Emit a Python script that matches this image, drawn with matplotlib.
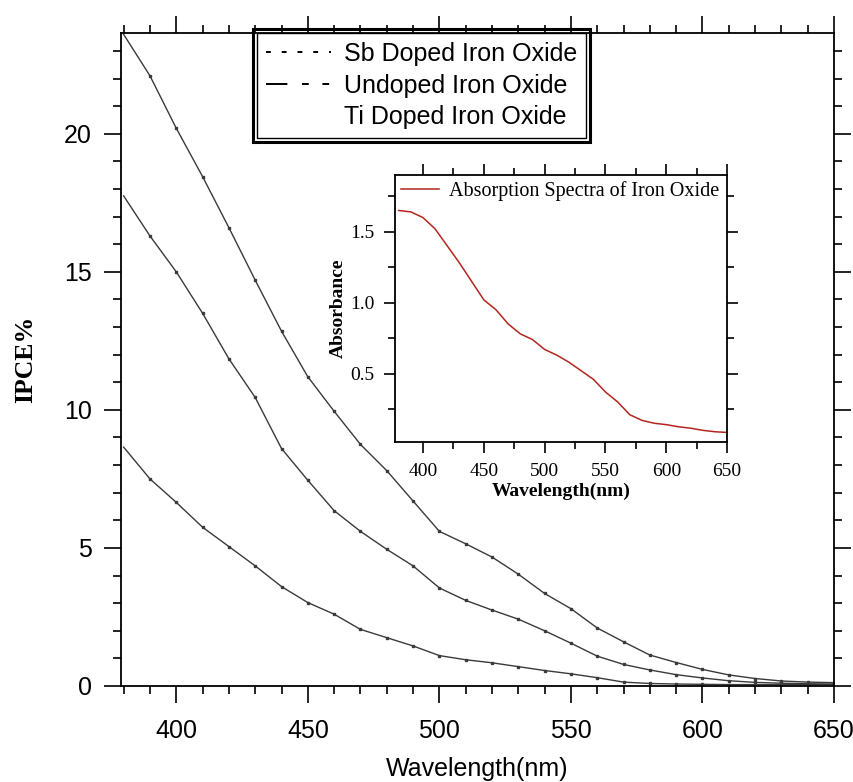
import matplotlib
matplotlib.use("Agg")
import matplotlib.pyplot as plt
from matplotlib.lines import Line2D
from matplotlib.patches import Rectangle
from matplotlib.ticker import MultipleLocator
from matplotlib.transforms import IdentityTransform

# datos IPCE
wavelength = [380, 390, 400, 410, 420, 430, 440, 450, 460, 470, 480, 490, 500, 510,
              520, 530, 540, 550, 560, 570, 580, 590, 600, 610, 620, 630, 640, 650]
ipce_sb = [23.6, 22.1, 20.2, 18.45, 16.6, 14.7, 12.85, 11.2, 9.95, 8.75, 7.8, 6.7, 5.6, 5.15,
           4.67, 4.05, 3.35, 2.8, 2.1, 1.6, 1.12, 0.85, 0.6, 0.4, 0.27, 0.18, 0.14, 0.12]
ipce_undoped = [17.75, 16.3, 15.0, 13.5, 11.85, 10.45, 8.6, 7.45, 6.35, 5.6, 4.95, 4.35, 3.55, 3.1,
                2.75, 2.42, 2.0, 1.55, 1.08, 0.78, 0.58, 0.41, 0.29, 0.19, 0.13, 0.1, 0.08, 0.07]
ipce_ti = [8.65, 7.5, 6.65, 5.75, 5.05, 4.35, 3.6, 3.02, 2.6, 2.05, 1.75, 1.45, 1.1, 0.95,
           0.84, 0.7, 0.56, 0.44, 0.3, 0.14, 0.09, 0.07, 0.06, 0.05, 0.05, 0.05, 0.05, 0.05]

# espectro de absorcion (inset)
abs_wavelength = wavelength
absorbance = [1.65, 1.64, 1.60, 1.52, 1.40, 1.28, 1.15, 1.02, 0.95, 0.85, 0.78, 0.74, 0.67, 0.63,
              0.58, 0.52, 0.46, 0.37, 0.30, 0.21, 0.17, 0.15, 0.14, 0.125, 0.115, 0.10, 0.09, 0.085]

legend_labels = ["Sb Doped Iron Oxide", "Undoped Iron Oxide", "Ti Doped Iron Oxide"]

SANS = "Liberation Sans"
SERIF = "Liberation Serif"
LINE_COLOR = "#3a3a3a"
RED = "#b3261e"

fig = plt.figure(figsize=(8.54, 7.82), dpi=100)
ax = fig.add_axes([0.1417, 0.1228, 0.8349, 0.835])

for serie in (ipce_sb, ipce_undoped, ipce_ti):
    ax.plot(wavelength, serie, color=LINE_COLOR, lw=1.0,
            marker="s", markersize=1.6, markevery=(1, 1))

ax.set_xlim(379, 650)
ax.set_ylim(0, 23.65)
ax.xaxis.set_major_locator(MultipleLocator(50))
ax.xaxis.set_minor_locator(MultipleLocator(10))
ax.yaxis.set_major_locator(MultipleLocator(5))
ax.yaxis.set_minor_locator(MultipleLocator(1))
ax.tick_params(which="both", direction="out", top=True, right=True, width=1.2)
ax.tick_params(which="major", length=12, pad=9)
ax.tick_params(axis="x", which="major", pad=12)
ax.tick_params(which="minor", length=5.8)
for lab in ax.get_xticklabels() + ax.get_yticklabels():
    lab.set_fontfamily(SANS)
    lab.set_fontsize(18)
for s in ax.spines.values():
    s.set_linewidth(1.3)

ax.set_xlabel("Wavelength(nm)", fontfamily=SANS, fontsize=18, labelpad=10)
ax.set_ylabel("IPCE%", fontfamily=SERIF, fontweight="bold", fontsize=18.5, labelpad=19)

# leyenda principal
handles = [
    Line2D([], [], color="k", lw=1.4, linestyle=(0, (2.5, 5.6))),
    Line2D([], [], color="k", lw=1.4, linestyle=(0, (11, 7.5, 3.5, 7, 3.5, 20))),
    Line2D([], [], color="none"),
]
leg = ax.legend(handles, legend_labels, loc="upper left",
                bbox_to_anchor=(257 / 854, 1 - 33 / 782), bbox_transform=fig.transFigure,
                prop={"family": SANS, "size": 18}, handlelength=2.6, handletextpad=0.52,
                labelspacing=0.3, borderpad=0.36, borderaxespad=0,
                fancybox=False, framealpha=1, edgecolor="k")
leg.get_frame().set_linewidth(1.0)
leg.set_zorder(10)

# inset
ins = fig.add_axes([0.4625, 0.4352, 0.389, 0.341])
ins.plot(abs_wavelength, absorbance, color=RED, lw=1.1,
         label="Absorption Spectra of Iron Oxide")
ins.set_xlim(377, 650)
ins.set_ylim(0.02, 1.9)
ins.xaxis.set_major_locator(MultipleLocator(50))
ins.xaxis.set_minor_locator(MultipleLocator(25))
ins.yaxis.set_major_locator(MultipleLocator(0.5))
ins.yaxis.set_minor_locator(MultipleLocator(0.25))
ins.tick_params(which="both", direction="out", top=True, right=True, width=1.2)
ins.tick_params(which="major", length=8, pad=7)
ins.tick_params(which="minor", length=5)
for lab in ins.get_xticklabels() + ins.get_yticklabels():
    lab.set_fontfamily(SERIF)
    lab.set_fontsize(14)
for s in ins.spines.values():
    s.set_linewidth(1.3)
ins.set_xlabel("Wavelength(nm)", fontfamily=SERIF, fontweight="bold", fontsize=14, labelpad=2)
ins.set_ylabel("Absorbance", fontfamily=SERIF, fontweight="bold", fontsize=14, labelpad=2)
ins.legend(loc="upper left", frameon=False, prop={"family": SERIF, "size": 14.5},
           handlelength=1.9, handletextpad=0.5, borderaxespad=0.1, borderpad=0.2)

# marco doble de la leyenda
fig.canvas.draw()
bb = leg.get_window_extent()
outer = Rectangle((bb.x0 - 4, bb.y0 - 4), bb.width + 8, bb.height + 8,
                  transform=IdentityTransform(), fill=False, lw=2.2, ec="k", zorder=11)
fig.add_artist(outer)

fig.savefig("out.png", dpi=100)
